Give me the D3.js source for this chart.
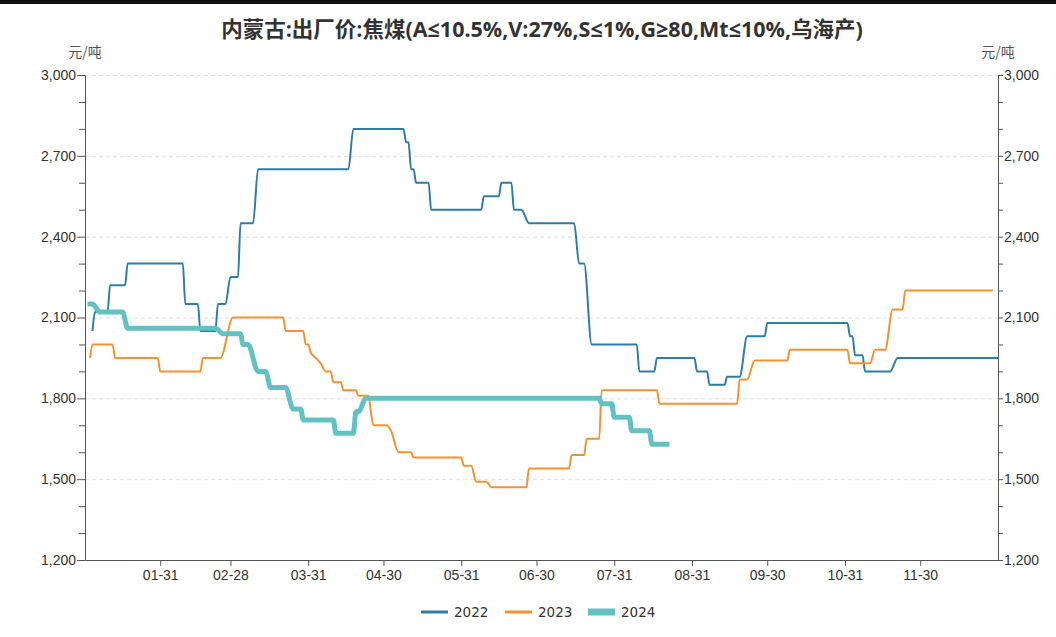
<!DOCTYPE html>
<html>
<head>
<meta charset="utf-8">
<script src="https://cdn.jsdelivr.net/npm/d3@7"></script>
<style>
  body { margin: 0; background: #fff; }
  svg { display: block; }
</style>
</head>
<body>
<div class="graph"></div>
<script>
var width = 1056;
var height = 637;

var title = "内蒙古:出厂价:焦煤(A≤10.5%,V:27%,S≤1%,G≥80,Mt≤10%,乌海产)";
var unit = "元/吨";
var years = ["2022", "2023", "2024"];
var colors = ["#2e7ca8", "#f5922f", "#62c2c3"];

var xTicks = ["01-31", "02-28", "03-31", "04-30", "05-31", "06-30",
              "07-31", "08-31", "09-30", "10-31", "11-30"];
var yTicks = [1200, 1500, 1800, 2100, 2400, 2700, 3000];

// [MM-DD, 元/吨]
var s2022 = [
  ["01-04", 2050], ["01-05", 2120], ["01-10", 2120], ["01-11", 2220],
  ["01-17", 2220], ["01-18", 2300], ["02-09", 2300], ["02-10", 2150],
  ["02-15", 2150], ["02-16", 2050], ["02-22", 2050], ["02-23", 2150],
  ["02-26", 2150], ["02-28", 2250], ["03-03", 2250], ["03-04", 2450],
  ["03-09", 2450], ["03-11", 2650], ["04-16", 2650], ["04-18", 2800],
  ["05-08", 2800], ["05-09", 2750], ["05-10", 2750], ["05-11", 2650],
  ["05-12", 2650], ["05-13", 2600], ["05-18", 2600], ["05-19", 2500],
  ["06-08", 2500], ["06-09", 2550], ["06-15", 2550], ["06-16", 2600],
  ["06-20", 2600], ["06-21", 2500], ["06-24", 2500], ["06-27", 2450],
  ["07-15", 2450], ["07-17", 2300], ["07-19", 2300], ["07-22", 2000],
  ["08-09", 2000], ["08-10", 1900], ["08-16", 1900], ["08-17", 1950],
  ["09-01", 1950], ["09-02", 1900], ["09-06", 1900], ["09-07", 1850],
  ["09-13", 1850], ["09-14", 1880], ["09-19", 1880], ["09-22", 2030],
  ["09-29", 2030], ["09-30", 2080], ["11-01", 2080], ["11-02", 2030],
  ["11-03", 2030], ["11-04", 1960], ["11-07", 1960], ["11-08", 1900],
  ["11-18", 1900], ["11-21", 1950], ["12-31", 1950]
];

var s2023 = [
  ["01-03", 1950], ["01-04", 2000], ["01-12", 2000], ["01-13", 1950],
  ["01-30", 1950], ["01-31", 1900], ["02-16", 1900], ["02-17", 1950],
  ["02-24", 1950], ["03-01", 2100], ["03-21", 2100], ["03-22", 2050],
  ["03-29", 2050], ["03-30", 2000], ["03-31", 2000], ["04-01", 1970],
  ["04-03", 1950], ["04-05", 1930], ["04-07", 1900], ["04-09", 1900],
  ["04-10", 1860], ["04-13", 1860], ["04-14", 1830], ["04-19", 1830],
  ["04-20", 1810], ["04-24", 1810], ["04-25", 1750], ["04-26", 1700],
  ["05-01", 1700], ["05-03", 1680], ["05-06", 1600], ["05-11", 1600],
  ["05-12", 1580], ["05-31", 1580], ["06-01", 1550], ["06-04", 1550],
  ["06-06", 1490], ["06-10", 1490], ["06-12", 1470], ["06-26", 1470],
  ["06-27", 1540], ["07-13", 1540], ["07-14", 1590], ["07-19", 1590],
  ["07-20", 1650], ["07-25", 1650], ["07-26", 1830], ["08-17", 1830],
  ["08-18", 1780], ["09-18", 1780], ["09-19", 1870], ["09-22", 1870],
  ["09-25", 1940], ["10-08", 1940], ["10-09", 1980], ["11-01", 1980],
  ["11-02", 1930], ["11-10", 1930], ["11-12", 1980], ["11-16", 1980],
  ["11-19", 2130], ["11-23", 2130], ["11-24", 2200], ["12-29", 2200]
];

var s2024 = [
  ["01-02", 2150], ["01-04", 2150], ["01-07", 2120], ["01-16", 2120],
  ["01-18", 2060], ["02-22", 2060], ["02-25", 2040], ["03-04", 2040],
  ["03-05", 2000], ["03-07", 2000], ["03-11", 1900], ["03-14", 1900],
  ["03-16", 1840], ["03-22", 1840], ["03-25", 1760], ["03-28", 1760],
  ["03-29", 1720], ["04-10", 1720], ["04-11", 1670], ["04-18", 1670],
  ["04-19", 1750], ["04-20", 1750], ["04-23", 1800], ["07-25", 1800],
  ["07-26", 1780], ["07-30", 1780], ["07-31", 1730], ["08-06", 1730],
  ["08-07", 1680], ["08-14", 1680], ["08-15", 1630], ["08-22", 1630]
];

var allSeries = [s2022, s2023, s2024];
var lineWidths = [2, 2, 5];

var parse = d3.timeParse("%Y-%m-%d");
function toDate(md) { return parse("2023-" + md); }

var plotLeft = 85, plotRight = 998, plotTop = 75, plotBottom = 560;

var svg = d3.select(".graph").append("svg")
  .attr("width", width)
  .attr("height", height)
  .style("font-family", "'DejaVu Sans', sans-serif");

// top bar
svg.append("rect")
  .attr("x", 0).attr("y", 0)
  .attr("width", width).attr("height", 4)
  .attr("fill", "#111");

svg.append("text")
  .attr("x", 542).attr("y", 37)
  .attr("text-anchor", "middle")
  .style("font-family", "'Open Sans', 'Noto Sans CJK SC', sans-serif")
  .style("font-size", "21.5px")
  .style("font-weight", "bold")
  .attr("fill", "#333")
  .text(title);

var x = d3.scaleTime()
  .domain([toDate("01-01"), toDate("12-31")])
  .range([plotLeft, plotRight]);

var y = d3.scaleLinear()
  .domain([1200, 3000])
  .range([plotBottom, plotTop]);

// grid
svg.append("g")
  .selectAll("line")
  .data(yTicks.slice(1))
  .enter().append("line")
  .attr("x1", plotLeft).attr("x2", plotRight)
  .attr("y1", d => y(d) + 0.5).attr("y2", d => y(d) + 0.5)
  .attr("stroke", "#ddd")
  .attr("stroke-dasharray", "4,3");

var minorTicks = d3.range(1200, 3001, 100).filter(v => yTicks.indexOf(v) < 0);

function styleAxis(g) {
  g.select(".domain").attr("stroke", "#555");
  g.selectAll(".tick line").attr("stroke", "#555");
  g.selectAll("text").attr("fill", "#333").style("font-size", "14px");
}

var yAxisLeft = svg.append("g")
  .attr("transform", "translate(" + plotLeft + ",0)")
  .call(d3.axisLeft(y).tickValues(yTicks).tickSize(8).tickSizeOuter(0).tickPadding(1)
    .tickFormat(d3.format(",")));
styleAxis(yAxisLeft);

svg.append("g")
  .attr("transform", "translate(" + plotLeft + ",0)")
  .call(d3.axisLeft(y).tickValues(minorTicks).tickSize(6).tickFormat(""))
  .call(g => g.select(".domain").remove())
  .selectAll("line").attr("stroke", "#555");

var yAxisRight = svg.append("g")
  .attr("transform", "translate(" + plotRight + ",0)")
  .call(d3.axisRight(y).tickValues(yTicks).tickSize(5).tickSizeOuter(0).tickPadding(1)
    .tickFormat(d3.format(",")));
styleAxis(yAxisRight);

svg.append("g")
  .attr("transform", "translate(" + plotRight + ",0)")
  .call(d3.axisRight(y).tickValues(minorTicks).tickSize(5).tickFormat(""))
  .call(g => g.select(".domain").remove())
  .selectAll("line").attr("stroke", "#555");

var xAxis = svg.append("g")
  .attr("transform", "translate(0," + plotBottom + ")")
  .call(d3.axisBottom(x).tickValues(xTicks.map(toDate)).tickSize(6).tickSizeOuter(0).tickPadding(4)
    .tickFormat(d3.timeFormat("%m-%d")));
styleAxis(xAxis);

// units
[plotLeft, plotRight].forEach(function (ux) {
  svg.append("text").attr("x", ux).attr("y", 57)
    .attr("text-anchor", "middle").attr("fill", "#555")
    .style("font-family", "'Noto Sans CJK SC', sans-serif")
    .style("font-size", "14px").text(unit);
});

var line = d3.line()
  .x(d => x(toDate(d[0])))
  .y(d => y(d[1]))
  .curve(d3.curveMonotoneX);

allSeries.forEach(function (s, i) {
  svg.append("path")
    .datum(s)
    .attr("fill", "none")
    .attr("stroke", colors[i])
    .attr("stroke-width", lineWidths[i])
    .attr("stroke-linejoin", "round")
    .attr("d", line);
});

// legend
var legendX = [421, 505, 588];
var legend = svg.append("g");
years.forEach(function (yr, i) {
  var g = legend.append("g").attr("transform", "translate(" + legendX[i] + ",612)");
  var h = i === 2 ? 7 : 3;
  g.append("rect")
    .attr("x", 0).attr("y", -h / 2)
    .attr("width", 27).attr("height", h)
    .attr("fill", colors[i]);
  g.append("text")
    .attr("x", 33).attr("y", 5)
    .attr("fill", "#333")
    .style("font-size", "13.5px")
    .text(yr);
});
</script>
</body>
</html>
